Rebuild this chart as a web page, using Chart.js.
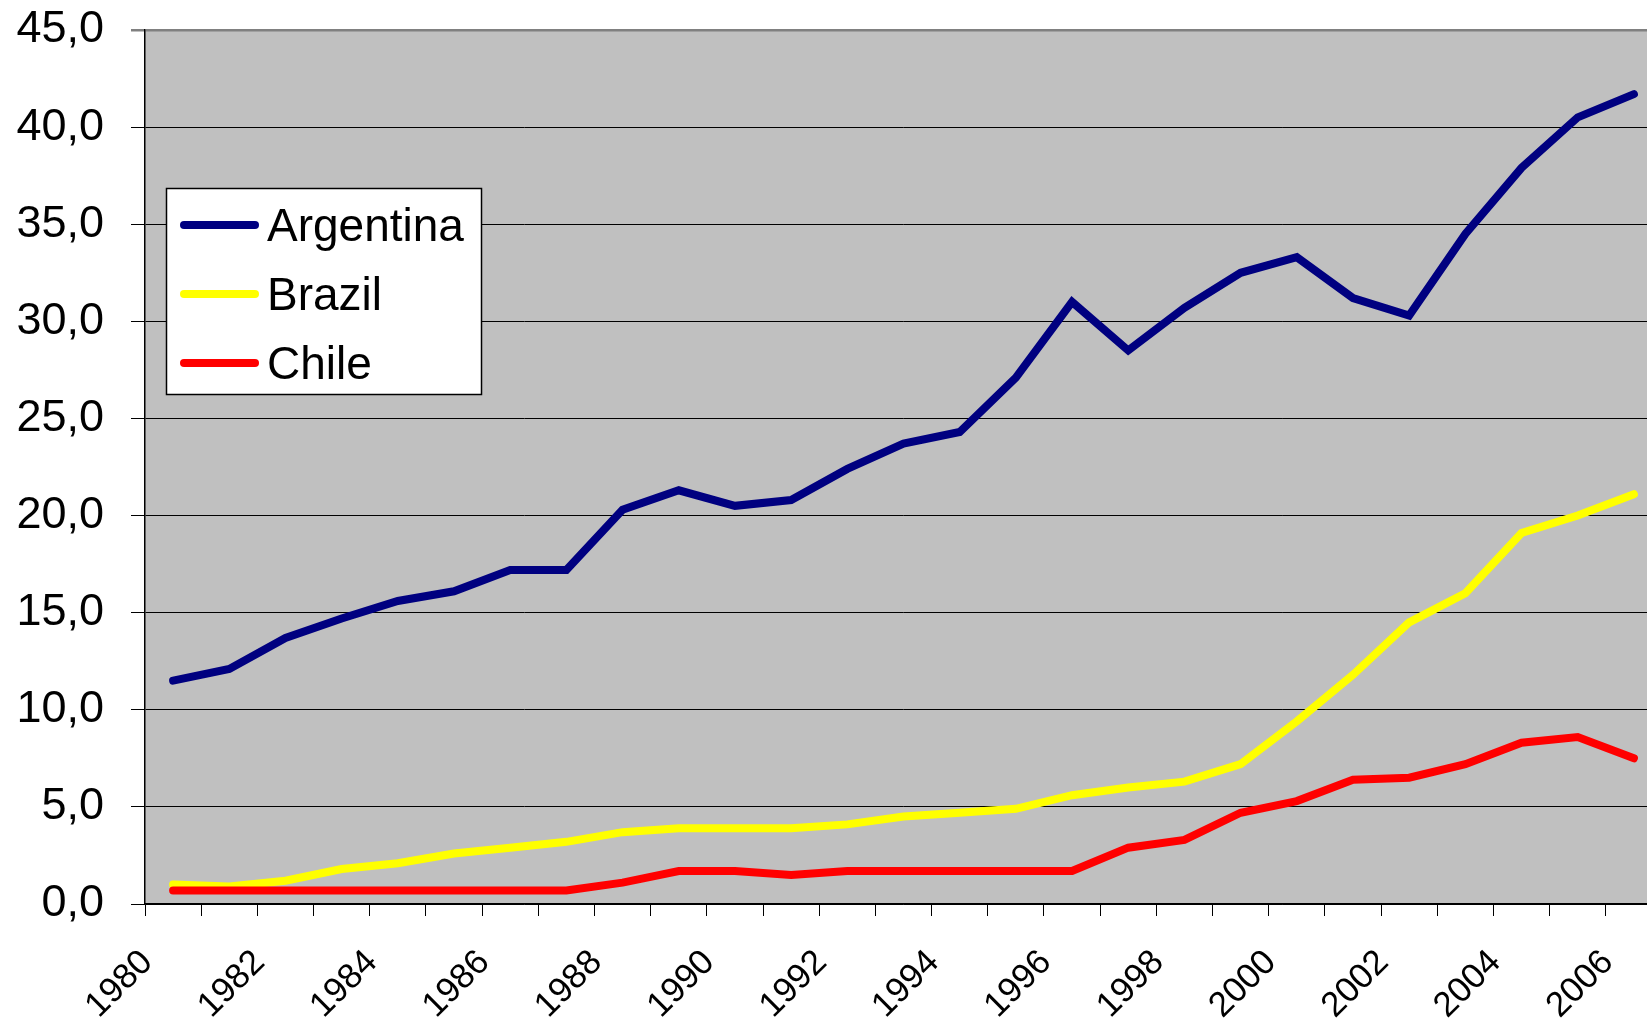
<!DOCTYPE html>
<html>
<head>
<meta charset="utf-8">
<script src="https://cdn.jsdelivr.net/npm/chart.js@4"></script>
<style>
  html, body { margin: 0; padding: 0; background: #fff; overflow: hidden; }
  #wrap { position: relative; width: 1662px; height: 1026px; }
</style>
</head>
<body>
<div id="wrap"><canvas id="myChart"></canvas></div>
<script>
const years = ['1980', '1981', '1982', '1983', '1984', '1985', '1986', '1987', '1988', '1989',
  '1990', '1991', '1992', '1993', '1994', '1995', '1996', '1997', '1998', '1999',
  '2000', '2001', '2002', '2003', '2004', '2005', '2006'];

const argentina = [11.5, 12.1, 13.7, 14.7, 15.6, 16.1, 17.2, 17.2, 20.3, 21.3,
  20.5, 20.8, 22.4, 23.7, 24.3, 27.1, 31.0, 28.5, 30.7, 32.5,
  33.3, 31.2, 30.3, 34.5, 37.9, 40.5, 41.7];
const brazil = [1.0, 0.9, 1.2, 1.8, 2.1, 2.6, 2.9, 3.2, 3.7, 3.9,
  3.9, 3.9, 4.1, 4.5, 4.7, 4.9, 5.6, 6.0, 6.3, 7.2,
  9.4, 11.8, 14.5, 16.0, 19.1, 20.0, 21.1];
const chile = [0.7, 0.7, 0.7, 0.7, 0.7, 0.7, 0.7, 0.7, 1.1, 1.7,
  1.7, 1.5, 1.7, 1.7, 1.7, 1.7, 1.7, 2.9, 3.3, 4.7,
  5.3, 6.4, 6.5, 7.2, 8.3, 8.6, 7.5];

const FONT = '"Liberation Sans", Arial, sans-serif';

// grey plot area
const plotBackground = {
  id: 'plotBackground',
  beforeDraw(chart) {
    const { ctx, chartArea: a } = chart;
    ctx.save();
    ctx.fillStyle = '#c0c0c0';
    ctx.fillRect(a.left, a.top, a.right - a.left, a.bottom - a.top);
    ctx.restore();
  }
};

// boxed legend inside the plot, Excel style
const boxLegend = {
  id: 'boxLegend',
  afterDraw(chart) {
    const ctx = chart.ctx;
    ctx.save();
    ctx.fillStyle = '#fff';
    ctx.fillRect(166, 188, 315, 206);
    ctx.strokeStyle = '#000';
    ctx.lineWidth = 1.5;
    ctx.strokeRect(166.5, 188.5, 315, 206);
    chart.data.datasets.forEach((ds, i) => {
      const y = 225 + i * 69;
      ctx.strokeStyle = ds.borderColor;
      ctx.lineWidth = 8;
      ctx.lineCap = 'round';
      ctx.beginPath();
      ctx.moveTo(184, y);
      ctx.lineTo(255, y);
      ctx.stroke();
      ctx.fillStyle = '#000';
      ctx.font = '46px ' + FONT;
      ctx.textBaseline = 'alphabetic';
      ctx.fillText(ds.label, 267, y + 16);
    });
    ctx.restore();
  }
};

const data = {
  labels: years,
  datasets: [
    { label: 'Argentina', data: argentina, borderColor: '#000080', order: 2 },
    { label: 'Brazil', data: brazil, borderColor: '#ffff00', order: 1 },
    { label: 'Chile', data: chile, borderColor: '#ff0000', order: 0 }
  ]
};
data.datasets.forEach(ds => {
  ds.borderWidth = 8;
  ds.pointRadius = 0;
  ds.tension = 0;
  ds.borderCapStyle = 'round';
  ds.borderJoinStyle = 'miter';
  ds.fill = false;
});

const config = {
  type: 'line',
  data: data,
  options: {
    responsive: true,
    maintainAspectRatio: false,
    animation: false,
    layout: { padding: { top: 30, left: 0, right: 0, bottom: 0 } },
    plugins: {
      legend: { display: false },
      tooltip: { enabled: false }
    },
    scales: {
      x: {
        type: 'category',
        offset: true,
        grid: { offset: true, drawOnChartArea: false, drawTicks: true, tickLength: 12, color: '#000', lineWidth: 1 },
        border: { display: true, color: '#000', width: 1.5 },
        ticks: {
          autoSkip: false,
          minRotation: 45,
          maxRotation: 45,
          labelOffset: -26,
          padding: 26,
          color: '#000',
          font: { family: FONT, size: 35 },
          callback: function (v, i) { return i % 2 === 0 ? this.getLabelForValue(v) : ''; }
        },
        afterFit(scale) {
          scale.height = 122;
          scale.paddingLeft = 0;
          scale.paddingRight = 0;
        }
      },
      y: {
        min: 0,
        max: 45,
        grid: {
          color: c => (c.tick && c.tick.value === 45 ? '#808080' : '#000'),
          lineWidth: c => (c.tick && c.tick.value === 45 ? 2.5 : 1),
          tickLength: 14
        },
        border: { display: true, color: '#000', width: 1.5 },
        ticks: {
          stepSize: 5,
          padding: 27,
          color: '#000',
          font: { family: FONT, size: 45 },
          callback: v => v.toFixed(1).replace('.', ',')
        },
        afterFit(scale) {
          scale.width = 145;
          scale.paddingTop = 0;
          scale.paddingBottom = 0;
        }
      }
    }
  },
  plugins: [plotBackground, boxLegend]
};

const myChart = new Chart(document.getElementById('myChart'), config);
</script>
</body>
</html>
